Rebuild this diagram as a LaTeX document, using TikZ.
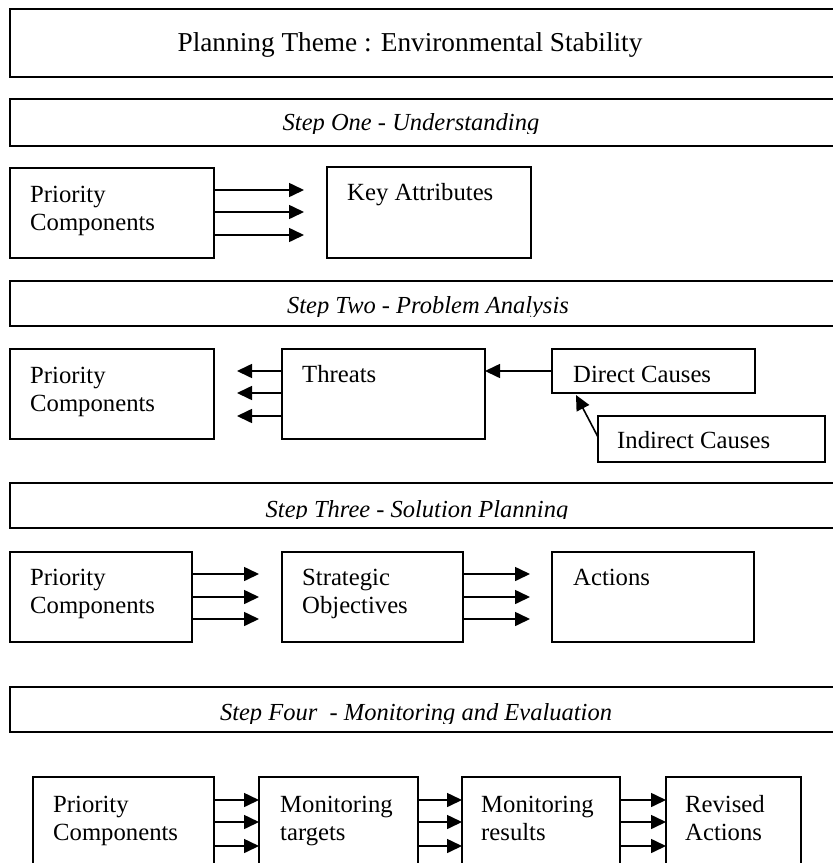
\documentclass[tikz,border=0pt]{standalone}
\usepackage{fontspec}
\setmainfont{Liberation Serif}
\usetikzlibrary{arrows.meta}
\tikzset{
  box/.style={draw, line width=1.6pt, rectangle, inner sep=0pt, outer sep=0pt, anchor=north west},
  txt/.style={anchor=base west, inner sep=0pt, font=\fontsize{24.7}{28}\selectfont, align=left},
  headtxt/.style={anchor=base, inner sep=0pt, font=\fontsize{24.5}{28}\selectfont\itshape},
  arr/.style={line width=1.6pt, -{Triangle[length=15pt,width=14pt]}},
}
\begin{document}
\begin{tikzpicture}[x=1pt,y=-1pt]
\useasboundingbox (0,0) rectangle (833,863);
\clip (0,0) rectangle (833,863);
\fill[white] (0,0) rectangle (833,863);

% Title
\node[box, minimum width=850pt, minimum height=68pt] (title) at (10,9) {};
\node[anchor=base, inner sep=0pt, font=\fontsize{27.3}{32}\selectfont] (titletxt) at (410,51) {Planning Theme : Environmental Stability};

% Step One
\node[box, minimum width=850pt, minimum height=47pt] (h1) at (10,99) {};
\begin{scope}
\clip (0,99) rectangle (833,133);
\node[headtxt] (h1t) at (411,130) {Step One - Understanding};
\end{scope}

% Row 1
\node[box, minimum width=204pt, minimum height=90pt] (pc1) at (10,168) {};
\node[txt] (pc1t) at (30,230) {Priority\\Components};
\node[box, minimum width=204pt, minimum height=91pt] (ka) at (327,167) {};
\node[txt] (kat) at (347,200) {Key Attributes};
\foreach \d in {22,44,67}
  \draw[arr, shorten >=23pt] ([yshift=-\d pt]pc1.north east) coordinate (t) -- (t -| ka.west);

% Step Two
\node[box, minimum width=850pt, minimum height=45pt] (h2) at (10,281) {};
\begin{scope}
\clip (0,281) rectangle (833,316);
\node[headtxt] (h2t) at (428,313) {Step Two - Problem Analysis};
\end{scope}

% Row 2
\node[box, minimum width=204pt, minimum height=90pt] (pc2) at (10,349) {};
\node[txt] (pc2t) at (30,411) {Priority\\Components};
\node[box, minimum width=203pt, minimum height=90pt] (thr) at (282,349) {};
\node[txt] (thrt) at (302,382) {Threats};
\node[box, minimum width=203pt, minimum height=44pt] (dc) at (552,349) {};
\node[txt] (dct) at (573,382) {Direct Causes};
\node[box, minimum width=227pt, minimum height=46pt] (ic) at (598,416) {};
\node[txt] (ict) at (617,448) {Indirect Causes};
\foreach \d in {22,44,67}
  \draw[arr, shorten >=23pt] ([yshift=-\d pt]thr.north west) coordinate (t) -- (t -| pc2.east);
\draw[arr] (dc.west) -- (dc.west -| thr.east);
\draw[arr] ([yshift=2pt]ic.west) -- ([xshift=24pt,yshift=-2pt]dc.south west);

% Step Three
\node[box, minimum width=850pt, minimum height=45pt] (h3) at (10,483) {};
\begin{scope}
\clip (0,483) rectangle (833,518);
\node[headtxt] (h3t) at (417,517) {Step Three - Solution Planning};
\end{scope}

% Row 3
\node[box, minimum width=182pt, minimum height=90pt] (pc3) at (10,552) {};
\node[txt] (pc3t) at (30,613) {Priority\\Components};
\node[box, minimum width=181pt, minimum height=90pt] (so) at (282,552) {};
\node[txt] (sot) at (302,613) {Strategic\\Objectives};
\node[box, minimum width=202pt, minimum height=90pt] (act) at (552,552) {};
\node[txt] (actt) at (573,585) {Actions};
\foreach \d in {22,45,67}{
  \draw[arr, shorten >=23pt] ([yshift=-\d pt]pc3.north east) coordinate (t) -- (t -| so.west);
  \draw[arr, shorten >=22pt] ([yshift=-\d pt]so.north east) coordinate (t) -- (t -| act.west);
}

% Step Four
\node[box, minimum width=850pt, minimum height=45pt] (h4) at (10,687) {};
\begin{scope}
\clip (0,687) rectangle (833,723);
\node[headtxt] (h4t) at (416,720) {Step Four \ - Monitoring and Evaluation};
\end{scope}

% Row 4
\node[box, minimum width=181pt, minimum height=110pt] (pc4) at (33,777) {};
\node[txt] (pc4t) at (53,840) {Priority\\Components};
\node[box, minimum width=159pt, minimum height=110pt] (mt) at (259,777) {};
\node[txt] (mtt) at (280,840) {Monitoring\\targets};
\node[box, minimum width=158pt, minimum height=110pt] (mr) at (462,777) {};
\node[txt] (mrt) at (481,840) {Monitoring\\results};
\node[box, minimum width=135pt, minimum height=110pt] (ra) at (666,777) {};
\node[txt] (rat) at (685,840) {Revised\\Actions};
\foreach \d in {23,45,69}{
  \draw[arr] ([yshift=-\d pt]pc4.north east) coordinate (t) -- (t -| mt.west);
  \draw[arr] ([yshift=-\d pt]mt.north east) coordinate (t) -- (t -| mr.west);
  \draw[arr] ([yshift=-\d pt]mr.north east) coordinate (t) -- (t -| ra.west);
}
\end{tikzpicture}
\end{document}
